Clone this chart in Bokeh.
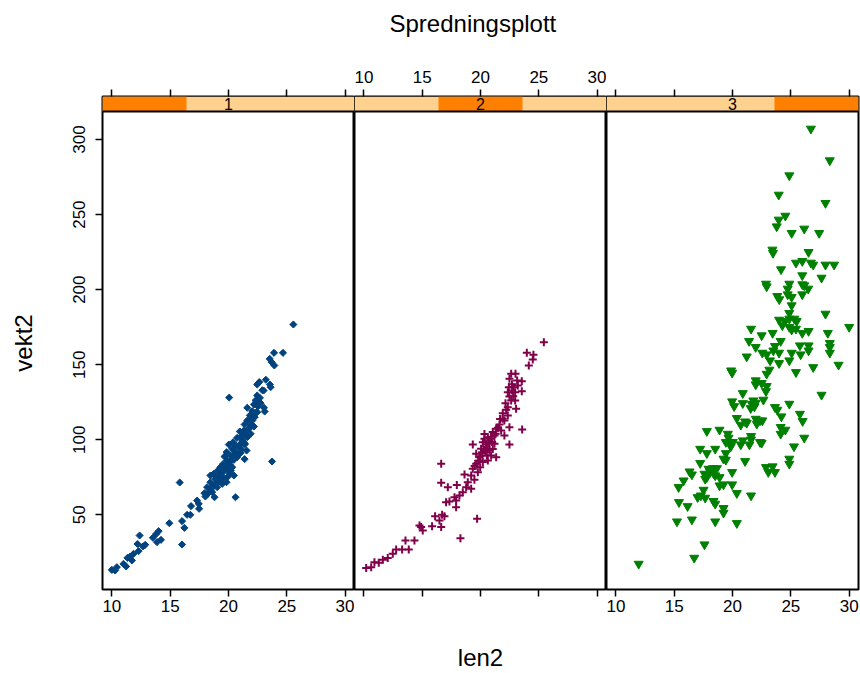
from bokeh.plotting import figure
from bokeh.models import Range1d, LinearAxis, FixedTicker, Span, Title
from bokeh.layouts import row, column
from bokeh.embed import file_html
from bokeh.resources import INLINE
from bokeh.core.properties import value

title_text = "Spredningsplott"
x_label = "len2"
y_label = "vekt2"
panel_names = ["1", "2", "3"]
x_ticks = [10, 15, 20, 25, 30]
y_ticks = [50, 100, 150, 200, 250, 300]

len2_g1 = [25.56, 23.9, 24.67, 23.53, 23.7, 23.93, 22.64, 22.46, 23.55, 23.61, 23.01, 20.06, 22.46, 22.69, 22.32,
           22.18, 22.52, 23.04, 23.1, 21.61, 22.04, 21.83, 21.61, 21.38, 22.04, 22.18, 21.75, 21.32, 20.97, 21.17,
           20.74, 21.61, 20.4, 20.03, 20.6, 21.03, 21.38, 20.31, 21.55, 19.83, 20.52, 20.17, 19.66, 21.38, 23.73,
           20.46, 20.03, 19.54, 19.31, 20.17, 19.83, 19.08, 18.74, 19.37, 18.45, 20.11, 20.46, 19.54, 18.88, 18.45,
           18.68, 19.03, 19.46, 19.83, 18.17, 18.45, 18.22, 18.02, 18.8, 20.6, 15.82, 17.31, 17.45, 16.79, 17.48,
           16.45, 16.73, 16.02, 14.93, 16.22, 16.02, 14.01, 13.81, 14.21, 13.52, 13.87, 12.38, 12.86, 12.66, 12.2,
           12.29, 11.86, 11.57, 11.34, 11.72, 11.0, 11.23, 10.43, 10.0, 10.28, 19.03, 19.31, 20.32, 20.74, 21.03,
           21.61, 21.89, 22.46, 22.75, 22.24, 21.17, 19.88, 18.6, 17.94,
           19.2, 19.6, 20.0, 20.3, 20.6, 20.9, 21.2, 21.5, 21.8, 22.0, 22.3, 19.9, 19.4, 18.9, 18.6,
           20.8, 21.1, 20.2, 19.7, 21.4, 21.9, 22.6, 22.9, 23.2]
vekt2_g1 = [176.8, 157.9, 157.9, 153.9, 151.7, 149.5, 138.4, 136.8, 136.8, 135.0, 132.8, 128.1, 129.5, 127.9, 126.2,
            123.5, 122.2, 121.3, 118.8, 121.3, 119.0, 116.2, 112.8, 110.2, 112.8, 108.8, 107.3, 106.2, 105.5, 102.8,
            101.3, 101.7, 98.4, 96.8, 96.2, 97.3, 96.8, 93.9, 92.8, 91.7, 90.6, 89.5, 88.8, 87.1, 85.5,
            86.6, 85.0, 83.9, 81.7, 82.8, 80.6, 79.5, 77.3, 77.7, 76.2, 77.3, 76.2, 75.1, 74.0, 71.7,
            69.5, 71.7, 70.6, 71.7, 68.4, 66.2, 64.0, 62.2, 61.7, 61.7, 71.5, 59.5, 57.3, 55.8, 54.0,
            50.0, 50.0, 45.8, 44.4, 41.3, 30.2, 39.1, 37.3, 33.3, 34.7, 31.8, 36.2, 30.0, 28.9, 30.6,
            25.8, 24.0, 22.2, 21.3, 19.6, 17.3, 15.6, 15.1, 13.3, 12.9, 68.4, 72.8, 81.7, 88.4, 91.1,
            105.0, 110.2, 118.4, 124.4, 115.0, 100.0, 86.2, 65.1, 64.4,
            76.0, 79.0, 83.0, 87.0, 92.0, 95.0, 99.0, 104.0, 108.0, 114.0, 118.0, 75.0, 73.5, 70.5, 68.0,
            90.0, 93.5, 79.5, 82.0, 97.5, 104.0, 125.0, 133.0, 140.0]

len2_g2 = [25.43, 23.97, 24.54, 24.48, 24.14, 22.63, 22.48, 23.14, 23.54, 22.43, 22.83, 23.2, 23.54, 22.97, 22.34,
           22.48, 22.97, 22.14, 22.34, 23.05, 21.91, 22.34, 21.68, 22.05, 23.57, 22.48, 21.34, 21.77, 22.05, 21.05,
           20.34, 20.63, 20.91, 21.2, 22.48, 19.34, 20.2, 20.48, 20.77, 21.34, 20.05, 20.43, 20.91, 19.63, 19.91,
           20.63, 20.2, 16.63, 19.63, 19.34, 19.97, 19.77, 19.2, 18.63, 19.48, 18.91, 16.63, 17.2, 17.97, 18.77,
           19.2, 18.48, 18.2, 17.77, 17.91, 17.05, 17.91, 17.34, 16.71, 16.11, 16.91, 16.48, 19.71, 15.85, 16.63,
           14.91, 15.05, 14.77, 18.28, 13.57, 14.34, 12.77, 13.28, 13.85, 12.48, 12.05, 11.63, 11.28, 10.91, 10.63,
           10.2, 20.34, 20.77, 21.05, 20.54, 20.14, 21.2, 21.63, 22.71, 22.63,
           20.5, 20.9, 20.6, 21.0, 20.3, 20.7, 21.3, 21.5, 21.9, 22.2, 19.8, 20.0, 19.5, 22.7, 23.0, 22.8]
vekt2_g2 = [165.0, 157.9, 156.6, 153.5, 149.5, 143.9, 140.6, 139.5, 139.0, 135.0, 135.0, 136.1, 132.4, 131.7, 131.7,
            128.8, 126.1, 124.4, 121.7, 120.6, 117.7, 116.2, 113.9, 112.8, 106.8, 108.4, 107.3, 106.2, 102.8, 105.1,
            103.9, 101.7, 100.6, 97.3, 96.8, 96.8, 98.4, 95.5, 92.8, 88.4, 94.0, 91.7, 89.5, 90.6, 88.4,
            86.2, 85.1, 84.0, 84.0, 80.6, 81.7, 78.4, 76.2, 76.9, 73.3, 71.7, 71.3, 68.4, 69.9, 68.4,
            67.3, 65.1, 62.9, 61.7, 59.5, 58.4, 55.1, 58.9, 50.0, 49.1, 49.1, 46.2, 47.3, 42.4, 41.8,
            41.8, 39.5, 42.9, 34.4, 32.9, 32.9, 26.9, 26.9, 26.9, 24.0, 21.3, 20.0, 18.0, 18.4, 15.1,
            14.6, 100.6, 97.7, 93.9, 89.5, 91.7, 102.8, 110.2, 132.8, 126.1,
            97.0, 102.0, 94.0, 98.5, 93.0, 99.0, 104.0, 108.0, 114.0, 120.0, 86.0, 89.0, 82.5, 137.0, 144.0, 129.0]

len2_g3 = [26.72, 28.34, 24.87, 23.96, 27.97, 24.53, 23.96, 23.79, 25.07, 26.15, 27.43, 23.42, 23.47, 26.52, 25.44,
           25.98, 26.72, 26.92, 27.97, 28.71, 24.16, 25.98, 27.63, 22.87, 22.93, 24.87, 24.73, 25.98, 26.15, 26.49,
           23.84, 24.01, 24.73, 25.07, 25.98, 25.07, 24.87, 27.97, 23.99, 24.5, 24.87, 25.3, 25.5, 24.27, 24.87,
           25.07, 25.44, 30.0, 21.59, 22.5, 23.44, 25.98, 26.52, 28.17, 21.42, 24.13, 23.64, 28.34, 28.34, 21.99,
           25.78, 26.52,
           22.56, 22.93, 23.5, 23.99, 25.07, 25.84, 26.52, 28.34, 21.22, 23.22, 23.99, 24.87, 29.09, 26.92, 25.44,
           19.88, 19.97, 23.16, 22.93, 21.99, 21.99, 22.5, 22.93, 22.87, 20.88, 27.63, 19.97, 20.14, 20.88, 21.65,
           21.79, 21.99, 22.65, 21.56, 21.88, 23.64, 23.84, 24.87, 25.78, 26.01, 24.19, 20.37, 20.71, 21.08, 21.22,
           21.99, 22.36, 22.56, 22.08, 24.13, 24.53, 24.13, 17.8, 18.89, 19.6, 19.66, 21.59, 21.59, 26.15, 19.43,
           19.74, 20.03, 20.88, 21.45, 20.71, 22.36, 22.5, 19.85, 25.27, 17.23, 18.52, 17.8, 19.43, 19.23, 19.43,
           21.08, 24.87, 24.87, 17.23, 16.32, 16.52, 17.6, 17.95, 18.32, 18.66, 18.09, 18.37, 17.66, 17.8, 18.52,
           18.89, 19.97, 22.87, 23.44, 23.07, 23.64, 15.81, 15.38, 18.89, 19.23, 19.97, 17.52, 17.29, 17.01, 17.66,
           20.37, 21.59, 18.37, 18.52, 15.41, 16.15, 19.23, 19.23, 15.24, 16.52, 18.52, 20.37, 17.6, 16.72, 11.96]
vekt2_g3 = [307.2, 286.1, 276.1, 263.2, 257.7, 249.2, 246.6, 242.1, 237.7, 240.6, 237.7, 226.6, 224.4, 225.0, 217.9,
            219.0, 217.9, 216.6, 216.6, 216.6, 213.5, 209.5, 207.9, 203.9, 202.1, 203.9, 200.6, 203.5, 202.8, 200.6,
            195.7, 193.5, 196.8, 195.1, 196.8, 189.5, 184.4, 183.9, 179.9, 179.0, 180.6, 180.6, 179.0, 176.2, 175.1,
            173.3, 173.9, 175.1, 173.9, 169.5, 171.1, 171.1, 172.4, 171.1, 165.7, 165.7, 162.4, 164.4, 161.7, 161.7,
            162.8, 162.8,
            157.9, 156.8, 159.4, 157.9, 157.9, 156.8, 159.4, 157.9, 155.4, 152.8, 151.0, 152.8, 149.9, 148.3, 145.0,
            146.1, 144.6, 146.6, 143.9, 139.5, 136.8, 137.7, 135.7, 132.3, 131.0, 129.9, 125.5, 122.3, 124.3, 123.9,
            126.1, 124.6, 126.6, 121.0, 122.1, 121.7, 119.9, 123.9, 117.2, 112.4, 115.5, 114.4, 109.9, 112.1, 111.2,
            113.9, 112.8, 112.8, 110.6, 108.4, 106.6, 103.9, 105.7, 106.6, 103.9, 101.3, 102.4, 100.1, 101.3, 98.4,
            98.4, 98.4, 99.5, 96.8, 96.8, 98.4, 97.9, 95.5, 95.5, 93.9, 93.9, 91.0, 91.0, 87.3, 86.6,
            85.7, 87.3, 83.9, 84.4, 78.8, 76.8, 77.3, 80.6, 81.0, 81.0, 78.4, 77.7, 73.9, 75.0, 76.2,
            75.0, 78.4, 81.7, 82.2, 78.4, 78.4, 72.8, 68.4, 69.5, 70.2, 70.2, 66.6, 62.8, 61.7, 61.3,
            64.4, 62.8, 59.1, 57.3, 58.4, 55.7, 54.4, 51.3, 45.5, 46.8, 45.5, 44.4, 30.2, 21.3, 17.3]

FONT = "Liberation Sans"
X0, X1 = 9.2, 30.8
Y0, Y_PANEL, Y_STRIP = 0.23, 318.7, 328.7
STRIP_LIGHT = "#FFD18F"
STRIP_DARK = "#FF7F00"
TITLE_H = 44


def style_axis(ax, ticks, show_labels, standoff=3):
    ax.ticker = FixedTicker(ticks=ticks)
    ax.major_tick_out = 7
    ax.major_tick_in = 0
    ax.minor_tick_out = 0
    ax.minor_tick_in = 0
    ax.axis_line_color = None
    ax.major_tick_line_color = "black"
    ax.major_tick_line_width = 1.5
    ax.major_label_text_font = FONT
    ax.major_label_text_font_size = "17px"
    ax.major_label_text_color = "black"
    ax.major_label_standoff = standoff
    ax.axis_label_text_color = "black"
    if not show_labels:
        ax.major_label_overrides = {t: "" for t in ticks}


def make_panel(idx, xs, ys, marker, size, color, line_width, left_axis, top_labels, bottom_labels,
               mb_left, mb_right):
    p = figure(x_range=Range1d(X0, X1), y_range=Range1d(Y0, Y_STRIP),
               frame_width=252, frame_height=493,
               output_backend="svg", toolbar_location=None, title=None,
               x_axis_location=None, y_axis_location=None,
               min_border_left=mb_left, min_border_right=mb_right,
               min_border_top=96 - TITLE_H, min_border_bottom=84)
    p.xgrid.visible = False
    p.ygrid.visible = False
    p.outline_line_color = "black"
    p.outline_line_width = 2
    p.background_fill_color = "white"
    p.border_fill_color = "white"

    bottom = LinearAxis()
    style_axis(bottom, x_ticks, bottom_labels, 3)
    p.add_layout(bottom, "below")
    top = LinearAxis()
    style_axis(top, x_ticks, top_labels, 7)
    p.add_layout(top, "above")
    if left_axis:
        la = LinearAxis()
        style_axis(la, y_ticks, True, 10)
        la.major_label_orientation = "vertical"
        la.axis_label = y_label
        la.axis_label_text_font = FONT
        la.axis_label_text_font_size = "24px"
        la.axis_label_text_font_style = "normal"
        la.axis_label_standoff = 34
        p.add_layout(la, "left")

    # strip
    w = (X1 - X0) / 3.0
    p.quad(left=[X0], right=[X1], bottom=[Y_PANEL], top=[Y_STRIP],
           fill_color=STRIP_LIGHT, line_color=None)
    p.quad(left=[X0 + idx * w], right=[X0 + (idx + 1) * w], bottom=[Y_PANEL], top=[Y_STRIP],
           fill_color=STRIP_DARK, line_color=None)
    p.add_layout(Span(location=Y_PANEL, dimension="width", line_color="black", line_width=2))
    p.text(x=[(X0 + X1) / 2], y=[(Y_PANEL + Y_STRIP) / 2], text=[panel_names[idx]],
           text_font=value(FONT), text_font_size=value("16px"), text_align="center",
           text_baseline="middle", text_color="black")

    if marker == "cross":
        p.scatter(xs, ys, marker=marker, size=size, line_color=color, line_width=line_width)
    else:
        p.scatter(xs, ys, marker=marker, size=size, fill_color=color, line_color=color,
                  line_width=line_width, angle=(0.7854 if marker == "square" else 0.0))
    return p


p1 = make_panel(0, len2_g1, vekt2_g1, "square", 5, "#00437F", 1, True, False, True, 102, 0)
p2 = make_panel(1, len2_g2, vekt2_g2, "cross", 8, "#80004A", 2, False, True, False, 0, 0)
p3 = make_panel(2, len2_g3, vekt2_g3, "inverted_triangle", 9, "#008000", 1, False, False, True, 0, 2)

xl = p2.below[0]
xl.axis_label = x_label
xl.axis_label_text_font = FONT
xl.axis_label_text_font_size = "24px"
xl.axis_label_text_font_style = "normal"
xl.axis_label_text_color = "black"
xl.axis_label_standoff = 47

# title strip on top
pt = figure(width=860, height=TITLE_H, x_range=Range1d(0, 1), y_range=Range1d(0, 1),
            output_backend="svg", toolbar_location=None, title=None,
            x_axis_location=None, y_axis_location=None,
            min_border_left=0, min_border_right=0, min_border_top=0, min_border_bottom=0)
pt.xgrid.visible = False
pt.ygrid.visible = False
pt.outline_line_color = None
pt.border_fill_color = "white"
pt.background_fill_color = "white"
t = Title(text=title_text, align="left", offset=389, text_font=FONT, text_font_size="24px",
          text_font_style="normal", text_color="black", standoff=14)
pt.add_layout(t, "above")

layout = column(pt, row(p1, p2, p3))
open("out.html", "w").write(file_html(layout, INLINE))
